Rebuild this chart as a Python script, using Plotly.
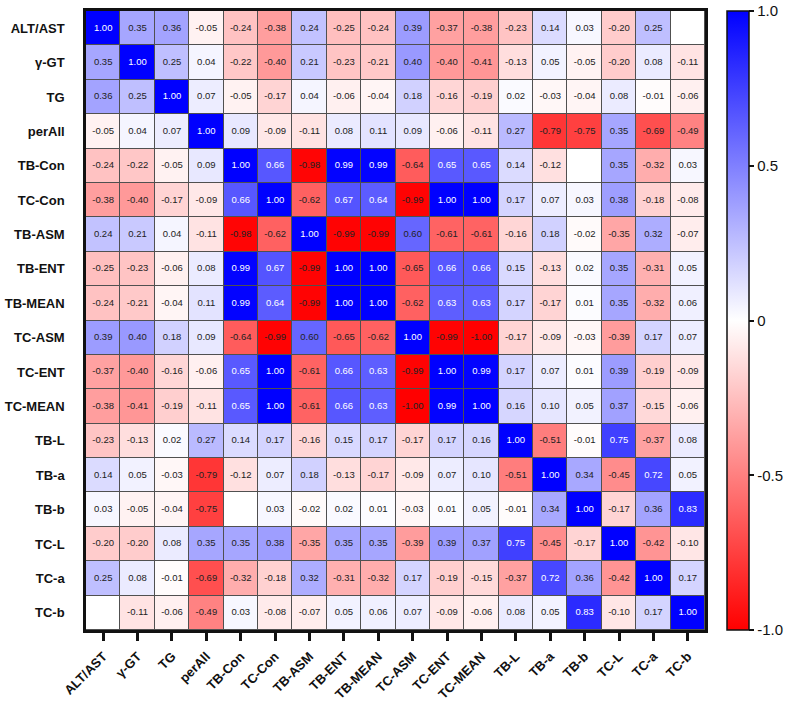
import plotly.graph_objects as go

labels = ["ALT/AST", "γ-GT", "TG", "perAll", "TB-Con", "TC-Con", "TB-ASM", "TB-ENT",
          "TB-MEAN", "TC-ASM", "TC-ENT", "TC-MEAN", "TB-L", "TB-a", "TB-b", "TC-L", "TC-a", "TC-b"]

r_alt_ast = [1.00, 0.35, 0.36, -0.05, -0.24, -0.38, 0.24, -0.25, -0.24, 0.39, -0.37, -0.38, -0.23, 0.14, 0.03, -0.20, 0.25, None]
r_ggt = [0.35, 1.00, 0.25, 0.04, -0.22, -0.40, 0.21, -0.23, -0.21, 0.40, -0.40, -0.41, -0.13, 0.05, -0.05, -0.20, 0.08, -0.11]
r_tg = [0.36, 0.25, 1.00, 0.07, -0.05, -0.17, 0.04, -0.06, -0.04, 0.18, -0.16, -0.19, 0.02, -0.03, -0.04, 0.08, -0.01, -0.06]
r_perall = [-0.05, 0.04, 0.07, 1.00, 0.09, -0.09, -0.11, 0.08, 0.11, 0.09, -0.06, -0.11, 0.27, -0.79, -0.75, 0.35, -0.69, -0.49]
r_tb_con = [-0.24, -0.22, -0.05, 0.09, 1.00, 0.66, -0.98, 0.99, 0.99, -0.64, 0.65, 0.65, 0.14, -0.12, None, 0.35, -0.32, 0.03]
r_tc_con = [-0.38, -0.40, -0.17, -0.09, 0.66, 1.00, -0.62, 0.67, 0.64, -0.99, 1.00, 1.00, 0.17, 0.07, 0.03, 0.38, -0.18, -0.08]
r_tb_asm = [0.24, 0.21, 0.04, -0.11, -0.98, -0.62, 1.00, -0.99, -0.99, 0.60, -0.61, -0.61, -0.16, 0.18, -0.02, -0.35, 0.32, -0.07]
r_tb_ent = [-0.25, -0.23, -0.06, 0.08, 0.99, 0.67, -0.99, 1.00, 1.00, -0.65, 0.66, 0.66, 0.15, -0.13, 0.02, 0.35, -0.31, 0.05]
r_tb_mean = [-0.24, -0.21, -0.04, 0.11, 0.99, 0.64, -0.99, 1.00, 1.00, -0.62, 0.63, 0.63, 0.17, -0.17, 0.01, 0.35, -0.32, 0.06]
r_tc_asm = [0.39, 0.40, 0.18, 0.09, -0.64, -0.99, 0.60, -0.65, -0.62, 1.00, -0.99, -1.00, -0.17, -0.09, -0.03, -0.39, 0.17, 0.07]
r_tc_ent = [-0.37, -0.40, -0.16, -0.06, 0.65, 1.00, -0.61, 0.66, 0.63, -0.99, 1.00, 0.99, 0.17, 0.07, 0.01, 0.39, -0.19, -0.09]
r_tc_mean = [-0.38, -0.41, -0.19, -0.11, 0.65, 1.00, -0.61, 0.66, 0.63, -1.00, 0.99, 1.00, 0.16, 0.10, 0.05, 0.37, -0.15, -0.06]
r_tb_l = [-0.23, -0.13, 0.02, 0.27, 0.14, 0.17, -0.16, 0.15, 0.17, -0.17, 0.17, 0.16, 1.00, -0.51, -0.01, 0.75, -0.37, 0.08]
r_tb_a = [0.14, 0.05, -0.03, -0.79, -0.12, 0.07, 0.18, -0.13, -0.17, -0.09, 0.07, 0.10, -0.51, 1.00, 0.34, -0.45, 0.72, 0.05]
r_tb_b = [0.03, -0.05, -0.04, -0.75, None, 0.03, -0.02, 0.02, 0.01, -0.03, 0.01, 0.05, -0.01, 0.34, 1.00, -0.17, 0.36, 0.83]
r_tc_l = [-0.20, -0.20, 0.08, 0.35, 0.35, 0.38, -0.35, 0.35, 0.35, -0.39, 0.39, 0.37, 0.75, -0.45, -0.17, 1.00, -0.42, -0.10]
r_tc_a = [0.25, 0.08, -0.01, -0.69, -0.32, -0.18, 0.32, -0.31, -0.32, 0.17, -0.19, -0.15, -0.37, 0.72, 0.36, -0.42, 1.00, 0.17]
r_tc_b = [None, -0.11, -0.06, -0.49, 0.03, -0.08, -0.07, 0.05, 0.06, 0.07, -0.09, -0.06, 0.08, 0.05, 0.83, -0.10, 0.17, 1.00]

rows = [r_alt_ast, r_ggt, r_tg, r_perall, r_tb_con, r_tc_con, r_tb_asm, r_tb_ent, r_tb_mean,
        r_tc_asm, r_tc_ent, r_tc_mean, r_tb_l, r_tb_a, r_tb_b, r_tc_l, r_tc_a, r_tc_b]

cb_ticks = [-1.0, -0.5, 0.0, 0.5, 1.0]
cb_ticktext = ["-1.0", "-0.5", "0", "0.5", "1.0"]

n = len(labels)
idx = list(range(n))
# blank (unlabelled) cells are drawn white, i.e. at the scale's midpoint
z = [[0.0 if v is None else v for v in row] for row in rows]

tx, ty, tt, tc = [], [], [], []
for i, row in enumerate(rows):
    for j, v in enumerate(row):
        if v is None:
            continue
        tx.append(j)
        ty.append(i)
        tt.append(f"{v:.2f}")
        tc.append("white" if v > 0.61 else "#222222")

FONT = "Arial, 'Liberation Sans', Helvetica, sans-serif"

L, R, T, B = 86, 84, 11, 72
W, H = 789, 702
pw = W - L - R

fig = go.Figure()
fig.add_trace(go.Heatmap(
    z=z, x=idx, y=idx,
    zmin=-1, zmax=1,
    colorscale=[[0, "#ff0000"], [0.5, "#ffffff"], [1, "#0000ff"]],
    xgap=1, ygap=1,
    hoverinfo="skip",
    colorbar=dict(
        x=(727 - L) / pw, xanchor="left", xpad=0,
        y=0.5, yanchor="middle", len=1, lenmode="fraction", ypad=0,
        thickness=22,
        outlinecolor="#111111", outlinewidth=1.5,
        tickvals=cb_ticks, ticktext=cb_ticktext,
        ticks="outside", ticklen=5, tickwidth=1.5, tickcolor="#111111",
        tickfont=dict(family=FONT, size=15, color="#111111"),
    ),
))
fig.add_trace(go.Scatter(
    x=tx, y=ty, text=tt, mode="text",
    textfont=dict(family=FONT, size=9.5, color=tc),
    hoverinfo="skip", showlegend=False,
))

fig.update_xaxes(
    range=[-0.5, n - 0.5], tickvals=idx, ticktext=labels, tickangle=-45,
    ticks="outside", ticklen=8, tickwidth=2.5, tickcolor="#111111",
    ticklabelstandoff=3,
    tickfont=dict(family=FONT, size=13, color="#111111", weight="bold"),
    showline=True, linecolor="#111111", linewidth=2.5, mirror=True,
    showgrid=False, zeroline=False, automargin=False,
)
fig.update_yaxes(
    range=[n - 0.5, -0.5], tickvals=idx, ticktext=labels,
    ticks="", ticklabelstandoff=16,
    tickfont=dict(family=FONT, size=13, color="#111111", weight="bold"),
    showline=True, linecolor="#111111", linewidth=2.5, mirror=True,
    showgrid=False, zeroline=False, automargin=False,
)

fig.update_layout(
    width=W, height=H,
    margin=dict(l=L, r=R, t=T, b=B, autoexpand=False),
    plot_bgcolor="#505050", paper_bgcolor="white",
    showlegend=False,
)

fig.write_html(
    "out.html",
    config={"displayModeBar": False},
    post_script="document.body.style.margin='0';document.body.style.overflow='hidden';",
)
